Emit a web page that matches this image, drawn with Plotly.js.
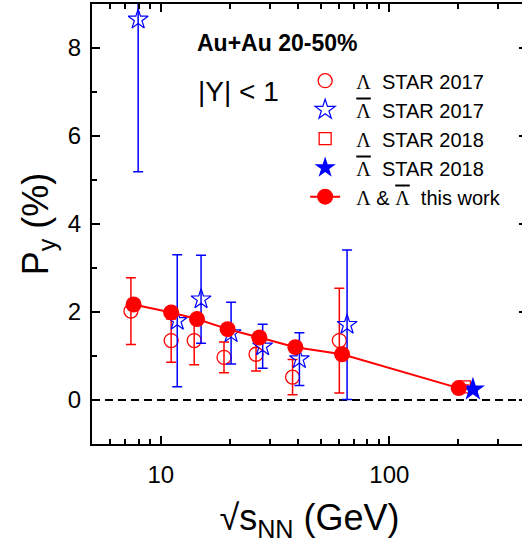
<!DOCTYPE html>
<html>
<head>
<meta charset="utf-8">
<script src="https://cdn.plot.ly/plotly-3.0.1.min.js"></script>
<style>
html, body { margin: 0; padding: 0; overflow: hidden; background: #fff; }
#chart { width: 535px; height: 552px; }
</style>
</head>
<body>
<div id="chart"></div>
<script>
// ---- data ----
const thisWorkX = [7.6, 11.1, 14.4, 19.6, 27.0, 38.8, 62.1, 201];
const thisWorkY = [2.17, 1.99, 1.84, 1.61, 1.42, 1.20, 1.04, 0.27];
const thisWorkErr = [0.12, 0.12, 0.12, 0.12, 0.11, 0.11, 0.12, 0.06];

const lam2017X = [7.4, 11.1, 14.0, 18.9, 26.1, 37.7, 60.4];
const lam2017Y = [2.02, 1.35, 1.35, 0.97, 1.04, 0.52, 1.35];
const lam2017Err = [0.76, 0.49, 0.55, 0.35, 0.38, 0.40, 1.19];

const alam2017X = [7.96, 11.8, 15.0, 20.3, 27.9, 40.4, 65.3];
const alam2017Y = [8.65, 1.80, 2.29, 1.52, 1.22, 0.93, 1.71];
const alam2017Err = [3.46, 1.50, 1.00, 0.70, 0.50, 0.60, 1.70];

const lam2018X = [213];
const lam2018Y = [0.30];
const lam2018Err = [0.04];

const alam2018X = [232];
const alam2018Y = [0.24];
const alam2018Err = [0.04];

const xTickVals = [10, 100];
const xTickText = ['10', '100'];
const xMinorVals = [6, 7, 8, 9, 20, 30, 40, 50, 60, 70, 80, 90, 200, 300];
const yTickVals = [0, 2, 4, 6, 8];
const yMinorVals = [1, 3, 5, 7];

const RED = '#ff0000';
const BLUE = '#0000ff';
const SERIF = "font-family:'Liberation Serif','DejaVu Serif',serif";
const L = `<span style="${SERIF}">Λ</span>`;
const LB = `<span style="${SERIF};text-decoration:overline">Λ</span>`;
const SP = '\u00a0\u00a0';
const GAP = '\u00a0\u00a0';

const errStyle = (arr, color) => ({
  type: 'data', array: arr, visible: true, color: color, thickness: 1.5, width: 5
});

const traces = [
  {
    x: lam2017X, y: lam2017Y, type: 'scatter', mode: 'markers',
    name: SP + L + GAP + 'STAR 2017',
    marker: {symbol: 'circle-open', size: 14, color: RED, line: {color: RED, width: 1.3}},
    error_y: errStyle(lam2017Err, RED)
  },
  {
    x: alam2017X, y: alam2017Y, type: 'scatter', mode: 'markers',
    name: SP + LB + GAP + 'STAR 2017',
    marker: {symbol: 'star-open', size: 15, color: BLUE, line: {color: BLUE, width: 1.2}},
    error_y: errStyle(alam2017Err, BLUE)
  },
  {
    x: lam2018X, y: lam2018Y, type: 'scatter', mode: 'markers',
    name: SP + L + GAP + 'STAR 2018',
    marker: {symbol: 'square-open', size: 12, color: RED, line: {color: RED, width: 1.3}},
    error_y: errStyle(lam2018Err, RED)
  },
  {
    x: alam2018X, y: alam2018Y, type: 'scatter', mode: 'markers',
    name: SP + LB + GAP + 'STAR 2018',
    marker: {symbol: 'star', size: 18, color: BLUE, line: {width: 0}},
    error_y: errStyle(alam2018Err, BLUE)
  },
  {
    x: thisWorkX, y: thisWorkY, type: 'scatter', mode: 'lines+markers',
    name: SP + L + ' & ' + LB + GAP + 'this work',
    line: {color: RED, width: 2},
    marker: {symbol: 'circle', size: 16, color: RED},
    error_y: errStyle(thisWorkErr, RED)
  },
  // invisible trace on the overlay axes so that their minor ticks are drawn
  {
    x: [10], y: [0], xaxis: 'x2', yaxis: 'y2', type: 'scatter', mode: 'markers',
    marker: {opacity: 0}, showlegend: false, hoverinfo: 'skip'
  }
];

const FONT = 'Arial, Liberation Sans, sans-serif';
const axisCommon = {
  showline: true, linecolor: '#000', linewidth: 2, mirror: 'ticks',
  ticks: 'inside', ticklen: 8, tickwidth: 2, tickcolor: '#000',
  showgrid: false, zeroline: false,
  tickfont: {family: FONT, size: 24, color: '#000'}
};
const XR = [Math.log10(5), Math.log10(400)];
const YR = [-1, 9];

const layout = {
  width: 535, height: 552,
  margin: {l: 92, r: 8, t: 4, b: 108},
  paper_bgcolor: '#fff', plot_bgcolor: '#fff',
  font: {family: FONT, color: '#000'},
  showlegend: true,
  xaxis: Object.assign({}, axisCommon, {
    type: 'log', range: XR,
    tickvals: xTickVals, ticktext: xTickText,
    ticklabelstandoff: 8,
    title: {text: '√s<sub>NN</sub> (GeV)', font: {size: 36, color: '#000'}, standoff: 18}
  }),
  yaxis: Object.assign({}, axisCommon, {
    range: YR, tickvals: yTickVals,
    ticklabelstandoff: 4,
    title: {text: 'P<sub>y</sub> (%)', font: {size: 36, color: '#000'}, standoff: 8}
  }),
  xaxis2: {
    type: 'log', range: XR, overlaying: 'x', side: 'bottom', anchor: 'y',
    tickvals: xMinorVals, showticklabels: false,
    ticks: 'inside', ticklen: 5, tickwidth: 2, tickcolor: '#000',
    mirror: 'ticks', showline: false, showgrid: false, zeroline: false
  },
  yaxis2: {
    range: YR, overlaying: 'y', side: 'left', anchor: 'x',
    tickvals: yMinorVals, showticklabels: false,
    ticks: 'inside', ticklen: 5, tickwidth: 2, tickcolor: '#000',
    mirror: 'ticks', showline: false, showgrid: false, zeroline: false
  },
  legend: {
    x: 0.49, y: 0.87, xanchor: 'left', yanchor: 'top',
    bgcolor: 'rgba(0,0,0,0)', borderwidth: 0,
    font: {size: 20, color: '#000'}, traceorder: 'normal'
  },
  shapes: [{
    type: 'line', xref: 'paper', x0: 0, x1: 1, yref: 'y', y0: 0, y1: 0,
    line: {color: '#000', width: 2, dash: '8px,5px'}, layer: 'below'
  }],
  annotations: [
    {text: '<b>Au+Au 20-50%</b>', xref: 'paper', yref: 'paper', x: 0.237, y: 0.911,
     xanchor: 'left', yanchor: 'middle', showarrow: false, font: {size: 23, color: '#000'}},
    {text: '|Y| < 1', xref: 'paper', yref: 'paper', x: 0.24, y: 0.802,
     xanchor: 'left', yanchor: 'middle', showarrow: false, font: {size: 28, color: '#000'}}
  ]
};

Plotly.newPlot('chart', traces, layout, {staticPlot: true, displayModeBar: false});
</script>
</body>
</html>
